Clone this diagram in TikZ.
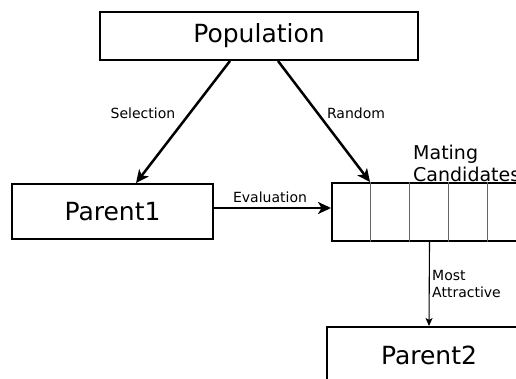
\documentclass[tikz,border=0pt]{standalone}
\usepackage{fontspec}
\setmainfont{DejaVu Sans}
\usetikzlibrary{arrows.meta}
\begin{document}
\begin{tikzpicture}[x=1pt,y=-1pt,
  box/.style={draw, line width=1.9pt, inner sep=0pt, font=\fontsize{25}{30}\selectfont},
  flow/.style={line width=2.5pt, -{Stealth[length=13pt,width=12pt,inset=3.5pt]}},
  thinflow/.style={line width=1.1pt, -{Stealth[length=8pt,width=7pt,inset=2pt]}},
  lbl/.style={font=\fontsize{14}{17}\selectfont, inner sep=0pt},
  cell/.style={draw=black!60, line width=0.9pt}]
\useasboundingbox (0,0) rectangle (516,378);
\clip (0,0) rectangle (516,378);

% boxes
\node[box, minimum width=318pt, minimum height=48pt] (pop) at (259,36) {Population};
\node[box, minimum width=201pt, minimum height=55pt] (p1) at (112.5,211.5) {Parent1};
\node[box, minimum width=195pt, minimum height=58pt] (mate) at (429.5,212) {};
\node[box, minimum width=204pt, minimum height=56pt, anchor=north] (p2) at (429,326) {\raisebox{-2pt}{Parent2}};

% cells of the mating pool
\foreach \k in {1,2,3,4}
  \draw[cell] ([xshift=\k*39pt]mate.north west) -- ([xshift=\k*39pt]mate.south west);

\node[lbl, font=\fontsize{19}{22}\selectfont, align=left, anchor=west] (mclbl) at (413,163) {Mating\\Candidates};

% connectors
\draw[flow] ([xshift=-29pt]pop.south) -- ([xshift=23.5pt]p1.north);
\draw[flow] ([xshift=19pt]pop.south) -- ([xshift=39pt]mate.north west);
\draw[flow] (p1.east |- 0,208) -- (mate.west |- 0,208);
\draw[thinflow] (mate.south) -- (p2.north);

% labels
\node[lbl] (lsel) at (143,113) {Selection};
\node[lbl] (lrand) at (356,113) {Random};
\node[lbl] (leval) at (270,197) {Evaluation};
\node[lbl, align=left, anchor=west] (lmost) at (432,284) {Most\\Attractive};
\end{tikzpicture}
\end{document}
